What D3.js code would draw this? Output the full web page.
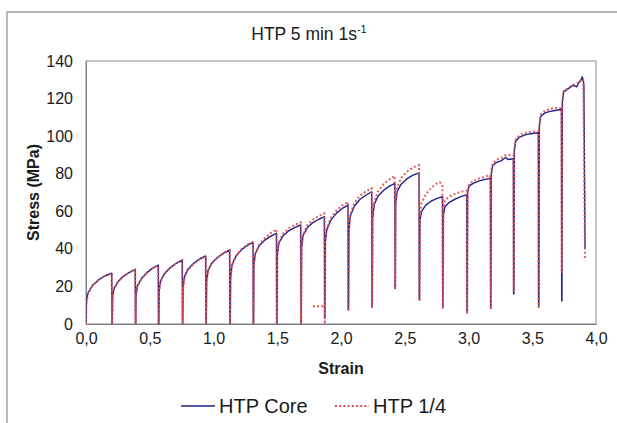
<!DOCTYPE html>
<html lang="en">
<head>
<meta charset="UTF-8">
<title>HTP 5 min 1s-1</title>
<style>
  body { margin: 0; background: #fff; }
  svg text { font-family: Arial, 'Liberation Sans', Helvetica, sans-serif; fill: #1a1a1a; }
  .tick-label { font-size: 16px; }
  .axis-title { font-size: 16px; font-weight: bold; }
  .legend-label { font-size: 20px; }
</style>
</head>
<body>
<div id="chart"></div>
<script src="https://d3js.org/d3.v7.min.js"></script>
<script>
// tick values and labels
const strainTicks = [0, 0.5, 1, 1.5, 2, 2.5, 3, 3.5, 4];
const strainLabels = ["0,0", "0,5", "1,0", "1,5", "2,0", "2,5", "3,0", "3,5", "4,0"];
const stressTicks = [0, 20, 40, 60, 80, 100, 120, 140];

// HTP Core: [strain, stress], cycle after cycle
const coreCycles = [
  [[0,0],[0.003,12],[0.015,16.5],[0.05,20.5],[0.1,23.6],[0.15,25.7],[0.202,27],[0.204,0]],
  [[0.206,0],[0.209,15],[0.22,19],[0.25,22.5],[0.29,25.3],[0.34,27.5],[0.386,29],[0.388,0]],
  [[0.39,0],[0.393,16],[0.404,20.5],[0.435,24.2],[0.475,27.2],[0.52,29.6],[0.567,31.4],[0.569,0]],
  [[0.571,0],[0.574,18],[0.585,23],[0.615,26.8],[0.66,30],[0.71,32.4],[0.755,34],[0.757,0]],
  [[0.759,0],[0.762,20],[0.773,25.5],[0.8,29.2],[0.845,32.4],[0.89,34.6],[0.939,36.2],[0.941,0]],
  [[0.943,0],[0.946,23],[0.957,28.5],[0.985,32.3],[1.03,35.4],[1.08,37.8],[1.127,39.4],[1.129,0]],
  [[1.131,0],[1.134,25],[1.145,31.5],[1.175,36],[1.22,39.6],[1.265,41.8],[1.31,43.5],[1.312,0]],
  [[1.314,0],[1.317,32],[1.328,37.5],[1.36,41.8],[1.405,44.8],[1.45,46.8],[1.494,48.3],[1.496,0]],
  [[1.498,0],[1.501,37],[1.512,43],[1.545,46.8],[1.59,49.6],[1.64,51.4],[1.684,52.7],[1.686,0]],
  [[1.688,0],[1.691,41],[1.702,47],[1.735,51.2],[1.78,54],[1.83,55.9],[1.87,57.1],[1.872,3]],
  [[1.874,3],[1.877,44],[1.888,50],[1.92,55.3],[1.965,59],[2.01,61.5],[2.055,63.3],[2.057,7.5]],
  [[2.059,7.5],[2.062,50],[2.073,57.5],[2.105,62.8],[2.15,66.4],[2.2,68.8],[2.241,70.4],[2.243,9]],
  [[2.245,9],[2.248,56],[2.26,63.5],[2.29,68],[2.335,71.2],[2.38,73.4],[2.422,74.9],[2.424,19]],
  [[2.426,19],[2.429,64],[2.44,70.5],[2.47,74.2],[2.515,77.2],[2.565,79.2],[2.612,80.5],[2.614,13]],
  [[2.616,13],[2.619,55],[2.632,60],[2.665,63.3],[2.71,65.5],[2.755,66.9],[2.796,67.8],[2.798,9]],
  [[2.8,9],[2.803,58],[2.815,62.4],[2.85,64.8],[2.895,66.5],[2.94,67.8],[2.986,68.7],[2.988,6]],
  [[2.99,6],[2.993,70],[3.005,73.5],[3.04,75],[3.085,76.2],[3.13,77],[3.172,77.5],[3.174,8.3]],
  [[3.176,8.3],[3.179,80],[3.19,84.5],[3.22,86],[3.26,87],[3.29,88.6],[3.31,87.6],[3.352,88],[3.354,16]],
  [[3.356,16],[3.359,92],[3.37,97.3],[3.4,99.5],[3.45,100.8],[3.5,101.4],[3.548,101.8],[3.55,10]],
  [[3.552,10],[3.555,105],[3.566,110.5],[3.6,112.4],[3.64,113.2],[3.69,113.8],[3.729,114.2],[3.731,12.4]],
  [[3.733,12.4],[3.736,118],[3.746,123.6],[3.78,125.2],[3.82,127],[3.85,126.3],[3.865,128.5],[3.88,129.5],[3.893,131.6],[3.905,127.5],[3.914,40]]
];

// HTP 1/4
const quarterCycles = [
  [[0,0],[0.003,10],[0.015,16],[0.05,20.3],[0.1,23.4],[0.15,25.6],[0.202,27],[0.204,0]],
  [[0.206,0],[0.209,14],[0.22,18.7],[0.25,22.3],[0.29,25.2],[0.34,27.4],[0.386,29],[0.388,0]],
  [[0.39,0],[0.393,15],[0.404,20],[0.435,24],[0.475,27],[0.52,29.5],[0.567,31.2],[0.569,0]],
  [[0.571,0],[0.574,17],[0.585,22.5],[0.615,26.5],[0.66,29.8],[0.71,32.3],[0.755,34],[0.757,0]],
  [[0.759,0],[0.762,19],[0.773,25],[0.8,28.8],[0.845,32],[0.89,34.4],[0.939,36],[0.941,0]],
  [[0.943,0],[0.946,22],[0.957,28],[0.985,32],[1.03,35.2],[1.08,37.6],[1.127,39.2],[1.129,0]],
  [[1.131,0],[1.134,24],[1.145,31],[1.175,36.2],[1.22,40],[1.265,42.3],[1.31,43.8],[1.312,0]],
  [[1.314,0],[1.317,31],[1.328,37.5],[1.36,42.5],[1.405,46],[1.45,48.5],[1.494,50.4],[1.496,0]],
  [[1.498,0],[1.501,36],[1.512,43.5],[1.545,48],[1.59,51],[1.64,52.9],[1.684,54.1],[1.686,0]],
  [[1.688,0],[1.691,40],[1.702,47.5],[1.735,52.5],[1.78,55.6],[1.83,57.6],[1.87,58.9],[1.872,0]],
  [[1.874,0],[1.877,43],[1.888,50.5],[1.92,56.5],[1.965,60.5],[2.01,63.2],[2.055,65],[2.057,7]],
  [[2.059,7],[2.062,50],[2.073,58.5],[2.105,64.5],[2.15,68.4],[2.2,70.8],[2.241,72.2],[2.243,9]],
  [[2.245,9],[2.248,57],[2.26,65],[2.29,70.5],[2.335,74.6],[2.38,77],[2.422,78.8],[2.424,19]],
  [[2.426,19],[2.429,65],[2.44,72.5],[2.47,77.5],[2.515,81],[2.565,83.3],[2.612,84.6],[2.614,12]],
  [[2.616,12],[2.619,58],[2.632,64.5],[2.665,69],[2.71,72.6],[2.755,75],[2.775,75.4],[2.796,74],[2.798,8]],
  [[2.8,8],[2.803,61],[2.815,66],[2.85,67.8],[2.895,69.3],[2.94,70.4],[2.986,71],[2.988,5.5]],
  [[2.99,5.5],[2.993,71],[3.005,74.5],[3.04,76.2],[3.085,77.5],[3.13,78.3],[3.16,79.5],[3.172,78],[3.174,8]],
  [[3.176,8],[3.179,82],[3.19,85.5],[3.22,87.5],[3.26,88.5],[3.29,89.8],[3.31,90],[3.352,89.8],[3.354,18]],
  [[3.356,18],[3.359,93],[3.37,98.3],[3.4,100.6],[3.45,101.8],[3.5,102.4],[3.548,102.7],[3.55,9]],
  [[3.552,9],[3.555,106],[3.566,111.5],[3.6,113.6],[3.64,114.5],[3.69,115],[3.729,115],[3.731,27]],
  [[3.733,27],[3.736,119],[3.746,124],[3.78,125.6],[3.82,127.4],[3.85,128],[3.87,129],[3.885,130.5],[3.9,130],[3.914,34]]
];
// the short stray dotted piece near strain 1.8
const quarterStray = [[1.78,9.5],[1.865,9.5]];

const W = 617, H = 423;
const margin = {top: 61, right: 21, bottom: 99, left: 86};

const svg = d3.select("#chart").append("svg")
  .attr("width", W).attr("height", H);

// outer frame (only top and left edges show)
svg.append("path")
  .attr("d", `M7,${H} L7,12 L${W},12`)
  .attr("fill", "none").attr("stroke", "#a0a0a0").attr("stroke-width", 1.5);

const x = d3.scaleLinear().domain([0, 4]).range([margin.left, W - margin.right]);
const y = d3.scaleLinear().domain([0, 140]).range([H - margin.bottom, margin.top]);

// plot box
svg.append("rect")
  .attr("x", x(0)).attr("y", y(140))
  .attr("width", x(4) - x(0)).attr("height", y(0) - y(140))
  .attr("fill", "none").attr("stroke", "#8c8c8c").attr("stroke-width", 1);

// axes, no tick marks
const xAxis = svg.append("g")
  .attr("transform", `translate(0,${y(0)})`)
  .call(d3.axisBottom(x).tickValues(strainTicks).tickSize(0).tickPadding(9)
    .tickFormat((d, i) => strainLabels[i]));
const yAxis = svg.append("g")
  .attr("transform", `translate(${x(0)},0)`)
  .call(d3.axisLeft(y).tickValues(stressTicks).tickSize(0).tickPadding(13));
[xAxis, yAxis].forEach(g => {
  g.select(".domain").attr("stroke", "#7a7a7a");
  g.selectAll("text").attr("class", "tick-label").attr("fill", "#1a1a1a")
    .style("font-family", "Arial, 'Liberation Sans', sans-serif");
});

svg.append("defs").append("clipPath").attr("id", "plot")
  .append("rect").attr("x", x(0)).attr("y", y(140) - 2)
  .attr("width", x(4) - x(0)).attr("height", y(0) - y(140) + 2);

const line = d3.line().x(d => x(d[0])).y(d => y(d[1]));
const plot = svg.append("g").attr("clip-path", "url(#plot)");

plot.append("path")
  .datum(coreCycles.flat())
  .attr("d", line)
  .attr("fill", "none").attr("stroke", "#1f1f8e").attr("stroke-width", 1.4)
  .attr("stroke-linejoin", "round");

plot.append("path")
  .datum(quarterCycles.flat())
  .attr("d", line)
  .attr("fill", "none").attr("stroke", "#e0504a").attr("stroke-width", 2)
  .attr("stroke-dasharray", "2,2.2").attr("opacity", 0.9);

plot.append("path")
  .datum(quarterStray)
  .attr("d", line)
  .attr("fill", "none").attr("stroke", "#e0504a").attr("stroke-width", 2)
  .attr("stroke-dasharray", "2,2.2");

// title
const title = svg.append("text")
  .attr("x", 309).attr("y", 40).attr("text-anchor", "middle")
  .style("font-size", "17.5px").attr("fill", "#222");
title.append("tspan").text("HTP 5 min 1s");
title.append("tspan").text("-1").attr("dy", -7).style("font-size", "11px");

// axis titles
svg.append("text").attr("class", "axis-title")
  .attr("x", (x(0) + x(4)) / 2).attr("y", 374).attr("text-anchor", "middle")
  .text("Strain");
svg.append("text").attr("class", "axis-title")
  .attr("transform", `translate(39,${(y(0) + y(140)) / 2}) rotate(-90)`)
  .attr("text-anchor", "middle")
  .text("Stress (MPa)");

// legend
const legend = [
  {name: "HTP Core", color: "#1f1f8e", dash: null, width: 1.4, x0: 181},
  {name: "HTP 1/4", color: "#e0504a", dash: "2,2.2", width: 2, x0: 335}
];
legend.forEach(l => {
  svg.append("line")
    .attr("x1", l.x0).attr("x2", l.x0 + 34).attr("y1", 406).attr("y2", 406)
    .attr("stroke", l.color).attr("stroke-width", l.width)
    .attr("stroke-dasharray", l.dash);
  svg.append("text").attr("class", "legend-label")
    .attr("x", l.x0 + 38).attr("y", 413).text(l.name);
});
</script>
</body>
</html>
